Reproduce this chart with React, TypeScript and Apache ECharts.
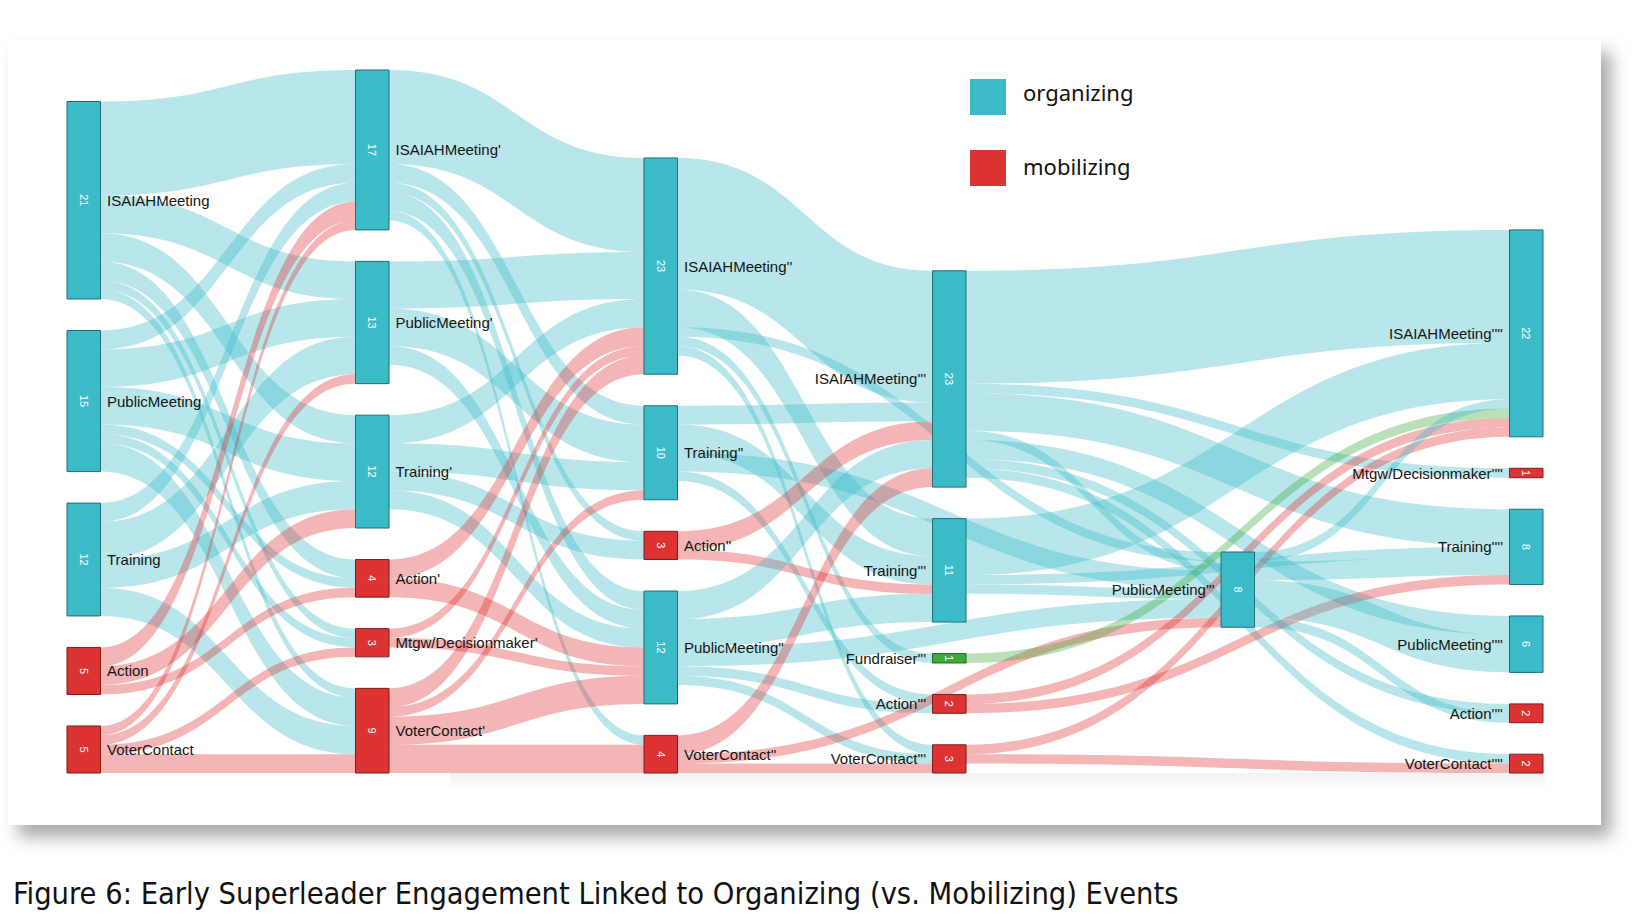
import React, { useEffect, useRef } from "react";
import * as echarts from "echarts";

type NodeRow = [string, number];
type LinkRow = [string, string, number];

// ---------- DATA ----------
const stage0: NodeRow[] = [
  ["ISAIAHMeeting", 21],
  ["PublicMeeting", 15],
  ["Training", 12],
  ["Action", 5],
  ["VoterContact", 5],
];
const stage1: NodeRow[] = [
  ["ISAIAHMeeting'", 17],
  ["PublicMeeting'", 13],
  ["Training'", 12],
  ["Action'", 4],
  ["Mtgw/Decisionmaker'", 3],
  ["VoterContact'", 9],
];
const stage2: NodeRow[] = [
  ["ISAIAHMeeting''", 23],
  ["Training''", 10],
  ["Action''", 3],
  ["PublicMeeting''", 12],
  ["VoterContact''", 4],
];
const stage3: NodeRow[] = [
  ["ISAIAHMeeting'''", 23],
  ["Training'''", 11],
  ["Fundraiser'''", 1],
  ["Action'''", 2],
  ["VoterContact'''", 3],
];
const stage3b: NodeRow[] = [["PublicMeeting'''", 8]];
const stage4: NodeRow[] = [
  ["ISAIAHMeeting''''", 22],
  ["Mtgw/Decisionmaker''''", 1],
  ["Training''''", 8],
  ["PublicMeeting''''", 6],
  ["Action''''", 2],
  ["VoterContact''''", 2],
];

const links01: LinkRow[] = [
  ["ISAIAHMeeting", "ISAIAHMeeting'", 10],
  ["ISAIAHMeeting", "PublicMeeting'", 4],
  ["ISAIAHMeeting", "Training'", 3],
  ["ISAIAHMeeting", "Action'", 2],
  ["ISAIAHMeeting", "Mtgw/Decisionmaker'", 1],
  ["ISAIAHMeeting", "VoterContact'", 1],
  ["PublicMeeting", "ISAIAHMeeting'", 2],
  ["PublicMeeting", "PublicMeeting'", 4],
  ["PublicMeeting", "Training'", 4],
  ["PublicMeeting", "Action'", 1],
  ["PublicMeeting", "Mtgw/Decisionmaker'", 1],
  ["PublicMeeting", "VoterContact'", 3],
  ["Training", "ISAIAHMeeting'", 2],
  ["Training", "PublicMeeting'", 4],
  ["Training", "Training'", 3],
  ["Training", "VoterContact'", 3],
  ["Action", "ISAIAHMeeting'", 2],
  ["Action", "Training'", 2],
  ["Action", "Action'", 1],
  ["VoterContact", "ISAIAHMeeting'", 1],
  ["VoterContact", "PublicMeeting'", 1],
  ["VoterContact", "Mtgw/Decisionmaker'", 1],
  ["VoterContact", "VoterContact'", 2],
];
const links12: LinkRow[] = [
  ["ISAIAHMeeting'", "ISAIAHMeeting''", 10],
  ["ISAIAHMeeting'", "Training''", 2],
  ["ISAIAHMeeting'", "Action''", 1],
  ["ISAIAHMeeting'", "PublicMeeting''", 2],
  ["ISAIAHMeeting'", "VoterContact''", 1],
  ["PublicMeeting'", "ISAIAHMeeting''", 5],
  ["PublicMeeting'", "Training''", 4],
  ["PublicMeeting'", "PublicMeeting''", 2],
  ["Training'", "ISAIAHMeeting''", 3],
  ["Training'", "Training''", 3],
  ["Training'", "Action''", 2],
  ["Training'", "PublicMeeting''", 2],
  ["Action'", "ISAIAHMeeting''", 2],
  ["Action'", "PublicMeeting''", 2],
  ["Mtgw/Decisionmaker'", "ISAIAHMeeting''", 1],
  ["Mtgw/Decisionmaker'", "PublicMeeting''", 1],
  ["VoterContact'", "ISAIAHMeeting''", 2],
  ["VoterContact'", "Training''", 1],
  ["VoterContact'", "PublicMeeting''", 3],
  ["VoterContact'", "VoterContact''", 3],
];
const links23: LinkRow[] = [
  ["ISAIAHMeeting''", "ISAIAHMeeting'''", 14],
  ["ISAIAHMeeting''", "Training'''", 4],
  ["ISAIAHMeeting''", "PublicMeeting'''", 1],
  ["ISAIAHMeeting''", "Fundraiser'''", 1],
  ["ISAIAHMeeting''", "VoterContact'''", 1],
  ["Training''", "ISAIAHMeeting'''", 2],
  ["Training''", "Training'''", 3],
  ["Training''", "PublicMeeting'''", 2],
  ["Training''", "Action'''", 1],
  ["Action''", "ISAIAHMeeting'''", 2],
  ["Action''", "Training'''", 1],
  ["PublicMeeting''", "ISAIAHMeeting'''", 3],
  ["PublicMeeting''", "Training'''", 3],
  ["PublicMeeting''", "PublicMeeting'''", 2],
  ["PublicMeeting''", "Action'''", 1],
  ["PublicMeeting''", "VoterContact'''", 1],
  ["VoterContact''", "ISAIAHMeeting'''", 2],
  ["VoterContact''", "PublicMeeting'''", 1],
  ["VoterContact''", "VoterContact'''", 1],
];
const links34: LinkRow[] = [
  ["ISAIAHMeeting'''", "ISAIAHMeeting''''", 12],
  ["ISAIAHMeeting'''", "Mtgw/Decisionmaker''''", 1],
  ["ISAIAHMeeting'''", "Training''''", 4],
  ["ISAIAHMeeting'''", "PublicMeeting'''", 1],
  ["ISAIAHMeeting'''", "PublicMeeting''''", 2],
  ["ISAIAHMeeting'''", "Action''''", 1],
  ["ISAIAHMeeting'''", "VoterContact''''", 1],
  ["Training'''", "ISAIAHMeeting''''", 6],
  ["Training'''", "Training''''", 1],
  ["Training'''", "PublicMeeting'''", 1],
  ["Fundraiser'''", "ISAIAHMeeting''''", 1],
  ["Action'''", "ISAIAHMeeting''''", 1],
  ["Action'''", "Training''''", 1],
  ["VoterContact'''", "ISAIAHMeeting''''", 1],
  ["VoterContact'''", "VoterContact''''", 1],
  ["PublicMeeting'''", "ISAIAHMeeting''''", 1],
  ["PublicMeeting'''", "Training''''", 2],
  ["PublicMeeting'''", "PublicMeeting''''", 4],
  ["PublicMeeting'''", "Action''''", 1],
];

const legendItems = ["organizing", "mobilizing"];
const titleText =
  "Figure 6: Early Superleader Engagement Linked to Organizing (vs. Mobilizing) Events";

// ---------- STYLE / LAYOUT ----------
const stageNodes: NodeRow[][] = [stage0, stage1, stage2, stage3, stage3b, stage4];
const allLinks: LinkRow[] = [...links01, ...links12, ...links23, ...links34];

const COLORS: Record<string, string> = {
  organizing: "#3BBBC7",
  mobilizing: "#DE3333",
  fundraising: "#3DAA3D",
};
const BORDERS: Record<string, string> = {
  organizing: "#1f6d75",
  mobilizing: "#7c1d1d",
  fundraising: "#24661f",
};
const organizingKinds = ["ISAIAHMeeting", "PublicMeeting", "Training"];
function kindOf(name: string) {
  const base = name.replace(/'+$/, "");
  if (organizingKinds.includes(base)) return "organizing";
  if (base === "Fundraiser") return "fundraising";
  return "mobilizing";
}

const BOX = { left: 67, top: 70, width: 1476, height: 703 };
const NODE_WIDTH = 33.5;
const NODE_GAP = 31.5;
const SPACER_NAME = "__spacer";
const SPACER_VALUE = 30; // keeps internal link ordering in the 5th column

const FONT = "'Liberation Sans', Arial, sans-serif";

function computeTops() {
  const H = BOX.height;
  const cols: NodeRow[][] = stageNodes.map((c, d) =>
    d === 4 ? ([[SPACER_NAME, SPACER_VALUE], ...c] as NodeRow[]) : c
  );
  let ky = Infinity;
  cols.forEach((c) => {
    const s = c.reduce((a, n) => a + n[1], 0);
    ky = Math.min(ky, (H - (c.length - 1) * NODE_GAP) / s);
  });
  const valueOf: Record<string, number> = {};
  stageNodes.forEach((c) => c.forEach(([n, v]) => (valueOf[n] = v)));
  const top: Record<string, number> = {};
  cols.forEach((c, d) => {
    if (d === 4) return;
    let y = H;
    for (let i = c.length - 1; i >= 0; i--) {
      y -= c[i][1] * ky;
      top[c[i][0]] = y;
      y -= NODE_GAP;
    }
  });
  stageNodes[4].forEach(([name, v]) => {
    let s = 0;
    let w = 0;
    allLinks
      .filter((l) => l[0] === name)
      .forEach(([, t, val]) => {
        s += (top[t] + (valueOf[t] * ky) / 2) * val;
        w += val;
      });
    top[name] = s / w - (v * ky) / 2;
  });
  return top;
}

export default function App() {
  const ref = useRef<HTMLDivElement>(null);

  useEffect(() => {
    if (!ref.current) return;
    const chart = echarts.init(ref.current, undefined, { renderer: "svg" });
    const top = computeTops();
    const H = BOX.height;

    const mainNodes: any[] = [];
    const valueNodes: any[] = [];
    stageNodes.forEach((col, d) => {
      if (d === 4) {
        mainNodes.push({
          name: SPACER_NAME,
          value: SPACER_VALUE,
          depth: 4,
          itemStyle: { color: "rgba(0,0,0,0)", borderWidth: 0, opacity: 0 },
          label: { show: false },
        });
      }
      col.forEach(([name, v]) => {
        const k = kindOf(name);
        mainNodes.push({
          name,
          value: v,
          depth: d,
          localY: top[name] / H,
          itemStyle: { color: COLORS[k], borderColor: BORDERS[k], borderWidth: 1 },
          label: { position: d >= 3 ? "left" : "right" },
        });
        valueNodes.push({
          name,
          value: v,
          depth: d,
          localY: top[name] / H,
        });
      });
    });

    const links = allLinks.map(([s, t, v]) => ({ source: s, target: t, value: v }));

    const common = {
      type: "sankey",
      left: BOX.left,
      top: BOX.top,
      width: BOX.width,
      height: BOX.height,
      nodeWidth: NODE_WIDTH,
      nodeGap: NODE_GAP,
      nodeAlign: "left",
      layoutIterations: 0,
      draggable: false,
      emphasis: { disabled: true },
    };

    const option: any = {
      animation: false,
      textStyle: { fontFamily: FONT },
      tooltip: { show: false },
      series: [
        {
          ...common,
          data: mainNodes,
          links,
          lineStyle: { color: "source", opacity: 0.36, curveness: 0.5 },
          label: {
            show: true,
            color: "#141414",
            fontSize: 15,
            fontFamily: FONT,
            distance: 6,
            formatter: "{b}",
          },
        },
        {
          ...common,
          silent: true,
          data: valueNodes,
          links: [],
          itemStyle: { color: "rgba(0,0,0,0)", borderWidth: 0 },
          label: {
            show: true,
            position: "inside",
            rotate: -90,
            color: "#ffffff",
            fontSize: 11,
            fontFamily: FONT,
            formatter: (p: any) => String(p.value),
          },
        },
      ],
      graphic: [
        {
          type: "rect",
          shape: { x: 970, y: 79, width: 36, height: 36 },
          style: { fill: COLORS.organizing },
        },
        {
          type: "text",
          x: 1023,
          y: 92,
          style: {
            text: legendItems[0],
            fill: "#111",
            fontSize: 22,
            fontFamily: "'Noto Sans', sans-serif",
            verticalAlign: "middle",
          },
        },
        {
          type: "rect",
          shape: { x: 970, y: 150, width: 36, height: 36 },
          style: { fill: COLORS.mobilizing },
        },
        {
          type: "text",
          x: 1023,
          y: 166,
          style: {
            text: legendItems[1],
            fill: "#111",
            fontSize: 22,
            fontFamily: "'Noto Sans', sans-serif",
            verticalAlign: "middle",
          },
        },
        {
          type: "text",
          x: 13,
          y: 893,
          style: {
            text: titleText,
            fill: "#111",
            fontSize: 30.5,
            fontFamily: "'Liberation Sans Narrow', 'DejaVu Sans Condensed', sans-serif",
            verticalAlign: "middle",
          },
        },
      ],
    };
    chart.setOption(option);
    return () => chart.dispose();
  }, []);

  return (
    <div
      style={{
        position: "fixed",
        left: 0,
        top: 0,
        width: 1644,
        height: 920,
        background: "#ffffff",
        overflow: "hidden",
      }}
    >
      <div
        style={{
          position: "absolute",
          left: 8,
          top: 40,
          width: 1593,
          height: 785,
          background: "#ffffff",
          boxShadow: "10px 12px 16px rgba(0,0,0,0.34)",
        }}
      />
      <div
        style={{
          position: "absolute",
          left: 450,
          top: 773,
          width: 1095,
          height: 16,
          background:
            "linear-gradient(to bottom, rgba(0,0,0,0.05), rgba(0,0,0,0))",
        }}
      />
      <div
        ref={ref}
        style={{ position: "absolute", left: 0, top: 0, width: 1644, height: 920 }}
      />
    </div>
  );
}
